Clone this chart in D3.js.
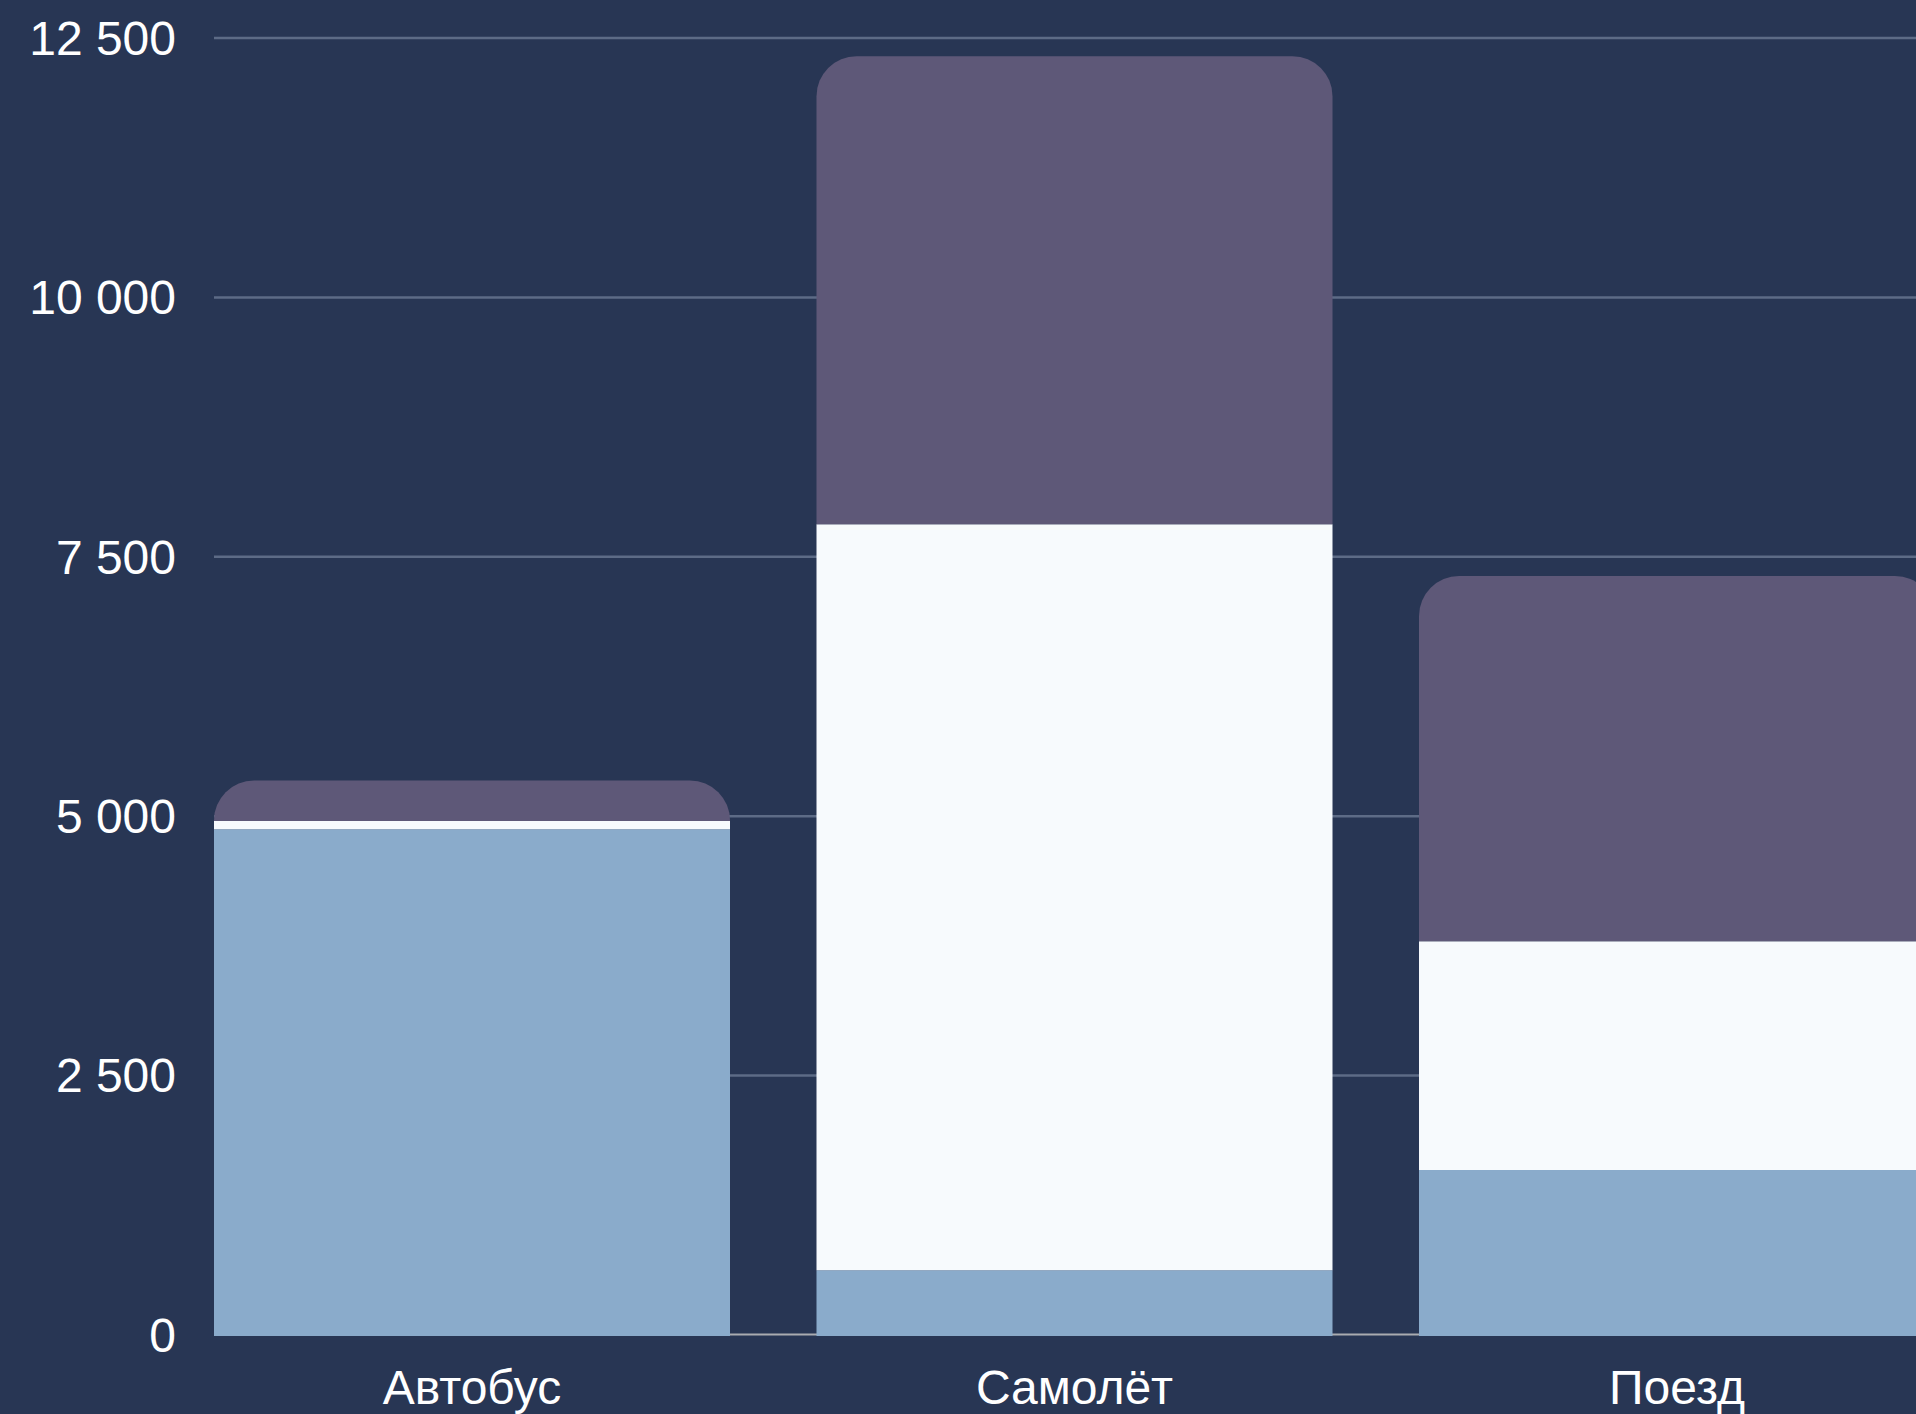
<!DOCTYPE html>
<html>
<head>
<meta charset="utf-8">
<script src="https://cdn.jsdelivr.net/npm/d3@7"></script>
<style>
  html, body { margin: 0; padding: 0; background: #283654; overflow: hidden; }
  svg { display: block; }
</style>
</head>
<body>
<svg id="chart" width="1916" height="1414"></svg>
<script>
// chart data
const categories = ['Автобус', 'Самолёт', 'Поезд'];
const seriesKeys = ['s1', 's2', 's3'];
const series1 = [4870, 620, 1585];
const series2 = [80, 7190, 2205];
const series3 = [390, 4510, 3520];
const yTicks = [0, 2500, 5000, 7500, 10000, 12500];

const colors = { s1: '#8aabcb', s2: '#f7fafd', s3: '#5e5878' };

const width = 1916;
const height = 1414;
const margin = { top: 37.5, left: 214, bottom: 79.5 };
const step = 602.5;
const gap = 86.5;
const plotRight = margin.left + categories.length * step - gap;

const rows = categories.map((c, i) => ({
  category: c, s1: series1[i], s2: series2[i], s3: series3[i],
}));
const stacked = d3.stack().keys(seriesKeys)(rows);

const svg = d3.select('#chart');

const x = d3.scaleBand()
  .domain(categories)
  .range([margin.left, plotRight])
  .paddingInner(gap / step)
  .paddingOuter(0);

const y = d3.scaleLinear()
  .domain([0, 12500])
  .range([height - margin.bottom, margin.top]);

const ru = d3.formatLocale({
  decimal: ',', thousands: ' ', grouping: [3], currency: ['', ''],
});
const fmt = ru.format(',d');

// grid lines + y labels
const yAxis = svg.append('g')
  .attr('class', 'yAxis')
  .attr('transform', `translate(${margin.left},0)`)
  .call(d3.axisLeft(y)
    .tickValues(yTicks)
    .tickSize(-(width - margin.left + 20))
    .tickPadding(38)
    .tickFormat(fmt));

yAxis.select('.domain').remove();
yAxis.selectAll('.tick line')
  .attr('stroke', '#5d6b86')
  .attr('stroke-width', 2.5)
  .attr('opacity', (d) => (d === 0 ? 0 : 1));
yAxis.selectAll('.tick text')
  .attr('fill', '#ffffff')
  .attr('font-family', '"Liberation Sans", Arial, sans-serif')
  .attr('font-size', 48)
  .attr('dy', '0.35em');

// baseline
svg.append('line')
  .attr('x1', margin.left)
  .attr('x2', width)
  .attr('y1', y(0))
  .attr('y2', y(0))
  .attr('stroke', '#a9abb0')
  .attr('stroke-width', 2);

// top segment gets rounded upper corners
const radius = 40;
const topRounded = (x0, y0, w, h) => {
  const r = Math.min(radius, h, w / 2);
  return `M${x0},${y0 + h}V${y0 + r}`
    + `A${r},${r} 0 0 1 ${x0 + r},${y0}`
    + `H${x0 + w - r}`
    + `A${r},${r} 0 0 1 ${x0 + w},${y0 + r}`
    + `V${y0 + h}Z`;
};

const layers = svg.append('g')
  .selectAll('g')
  .data(stacked)
  .join('g')
  .attr('fill', (d) => colors[d.key]);

layers.selectAll('path')
  .data((d) => d.map((v) => ({ v, last: d.index === seriesKeys.length - 1, first: d.index === 0 })))
  .join('path')
  .attr('d', (d) => {
    const x0 = x(d.v.data.category);
    const top = y(d.v[1]);
    const bottom = y(d.v[0]) + (d.first ? 1.5 : 0);
    const w = x.bandwidth();
    if (d.last) return topRounded(x0, top, w, bottom - top);
    return `M${x0},${top}H${x0 + w}V${bottom}H${x0}Z`;
  });

// category labels
svg.append('g')
  .selectAll('text')
  .data(categories)
  .join('text')
  .attr('x', (d) => x(d) + x.bandwidth() / 2)
  .attr('y', 1404)
  .attr('text-anchor', 'middle')
  .attr('fill', '#ffffff')
  .attr('font-family', '"Liberation Sans", Arial, sans-serif')
  .attr('font-size', 48)
  .text((d) => d);
</script>
</body>
</html>
